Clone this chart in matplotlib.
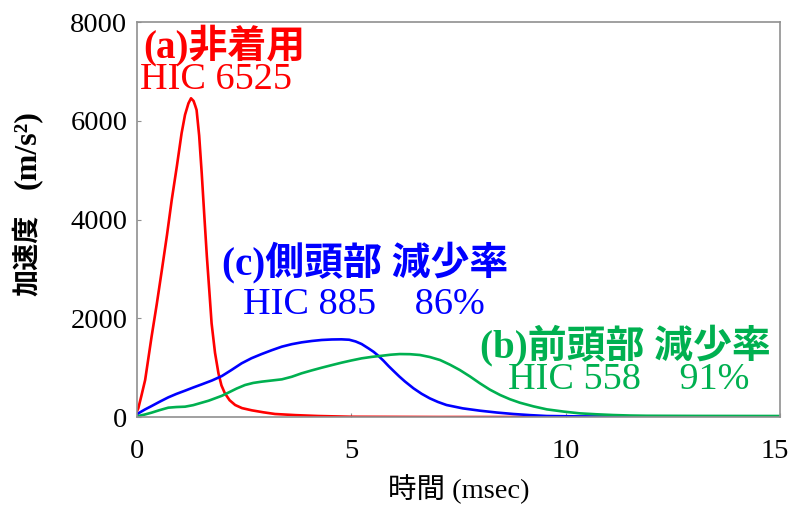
import matplotlib
matplotlib.use("Agg")
import matplotlib.pyplot as plt
from matplotlib.transforms import ScaledTranslation

# Time axis (msec) and acceleration (m/s^2) for each condition
t_none = [0.0, 0.03, 0.10, 0.19, 0.34, 0.46, 0.58, 0.70, 0.81, 0.93, 1.04, 1.12, 1.20,
          1.26, 1.32, 1.36, 1.39, 1.45, 1.51, 1.57, 1.63, 1.69, 1.74, 1.82, 1.90, 1.97,
          2.05, 2.16, 2.29, 2.45, 2.68, 2.95, 3.22, 3.70, 4.23, 5.0, 7.0, 10.0, 15.0]
a_none = [120, 175, 420, 750, 1627, 2280, 2977, 3690, 4395, 5080, 5746, 6120, 6353,
          6455, 6400, 6300, 6218, 5700, 4936, 4080, 3247, 2520, 1898, 1300, 885, 640,
          480, 340, 243, 180, 135, 95, 61, 38, 20, 5, 0, 0, 0]

t_side = [0.0, 0.03, 0.18, 0.34, 0.53, 0.73, 0.92, 1.12, 1.31, 1.51, 1.75, 1.98, 2.20,
          2.44, 2.67, 2.91, 3.15, 3.38, 3.61, 3.84, 4.08, 4.31, 4.54, 4.77, 4.95, 5.10,
          5.24, 5.40, 5.52, 5.63, 5.75, 5.87, 6.00, 6.12, 6.25, 6.45, 6.64, 6.83, 7.02,
          7.22, 7.60, 8.0, 8.40, 8.78, 9.17, 9.56, 10.3, 11.0, 13.0, 15.0]
a_side = [50, 74, 150, 222, 310, 398, 468, 533, 597, 661, 740, 830, 950,
          1087, 1190, 1276, 1355, 1425, 1475, 1512, 1540, 1560, 1570, 1573, 1565, 1530,
          1478, 1390, 1320, 1240, 1140, 1030, 920, 820, 720, 581, 470, 378, 305,
          243, 175, 128, 90, 61, 38, 20, 12, 8, 5, 3]

t_front = [0.0, 0.03, 0.18, 0.34, 0.53, 0.73, 0.92, 1.12, 1.31, 1.51, 1.67, 1.82, 1.98,
           2.13, 2.32, 2.52, 2.71, 2.91, 3.15, 3.38, 3.61, 3.84, 4.08, 4.31, 4.54, 4.77,
           5.00, 5.24, 5.48, 5.71, 5.92, 6.13, 6.37, 6.60, 6.83, 7.07, 7.30, 7.53, 7.77,
           8.0, 8.23, 8.47, 8.70, 8.93, 9.25, 9.56, 9.95, 10.33, 10.72, 11.11, 11.50,
           11.89, 13.0, 15.0]
a_front = [10, 20, 50, 88, 140, 189, 202, 209, 240, 290, 330, 378, 430,
           493, 575, 648, 690, 716, 740, 763, 815, 885, 945, 999, 1050, 1100,
           1145, 1188, 1218, 1240, 1262, 1275, 1272, 1256, 1215, 1154, 1060, 952, 820,
           682, 555, 446, 360, 290, 215, 155, 110, 74, 55, 40, 30, 25, 22, 20]

x_ticks = [0, 5, 10, 15]
y_ticks = [0, 2000, 4000, 6000, 8000]

RED = "#FF0000"
BLUE = "#0000FF"
GREEN = "#00B050"
FAM = ["Liberation Serif", "Noto Sans CJK JP"]
plt.rcParams["font.family"] = FAM

fig = plt.figure(figsize=(7.91, 5.07), dpi=100)
ax = fig.add_axes([0.1732, 0.1775, 0.8129, 0.7791])

ax.plot(t_none, a_none, color=RED, lw=1.9, solid_joinstyle="round")
ax.plot(t_side, a_side, color=BLUE, lw=1.9, solid_joinstyle="round")
ax.plot(t_front, a_front, color=GREEN, lw=1.9, solid_joinstyle="round")

ax.set_xlim(0, 15)
ax.set_ylim(0, 8000)
ax.set_xticks(x_ticks)
ax.set_yticks(y_ticks)
ax.set_xticklabels([str(v) for v in x_ticks])
ax.set_yticklabels([str(v) for v in y_ticks])
ax.tick_params(direction="in", length=3, width=0.8, color="#909090", labelsize=20.5)
ax.tick_params(axis="x", pad=16)
ax.tick_params(axis="y", pad=7)
# keep the last x tick label inside the canvas
last = ax.get_xticklabels()[-1]
last.set_transform(last.get_transform() + ScaledTranslation(-4 / 72, 0, fig.dpi_scale_trans))
for sp in ax.spines.values():
    sp.set_color("#909090")
    sp.set_linewidth(1.2)

ax.set_xlabel("時間 (msec)", fontsize=20.5, labelpad=7)

# y-axis title: kanji in gothic bold, unit in serif bold
fig.text(27 / 791, (507 - 296) / 507, "加速度", rotation=90, ha="center", va="bottom",
         fontsize=19.5, fontweight="bold", family=["Noto Sans CJK JP"])
fig.text(27 / 791, (507 - 110) / 507, "(m/s²)", rotation=90, ha="center", va="top",
         fontsize=23, fontweight="bold", family=["Liberation Serif"])

# Condition labels
ax.text(0.14, 7534, "(a)非着用", color=RED, fontsize=28, fontweight="bold", va="center")
ax.text(0.07, 6825, "HIC 6525", color=RED, fontsize=27.5, va="center")
ax.text(1.98, 3139, "(c)側頭部 減少率", color=BLUE, fontsize=28, fontweight="bold", va="center")
ax.text(2.47, 2268, "HIC 885    86%", color=BLUE, fontsize=27.5, va="center")
ax.text(8.0, 1458, "(b)前頭部 減少率", color=GREEN, fontsize=28, fontweight="bold", va="center")
ax.text(8.65, 750, "HIC 558    91%", color=GREEN, fontsize=27.5, va="center")

fig.savefig("out.png", dpi=100)
